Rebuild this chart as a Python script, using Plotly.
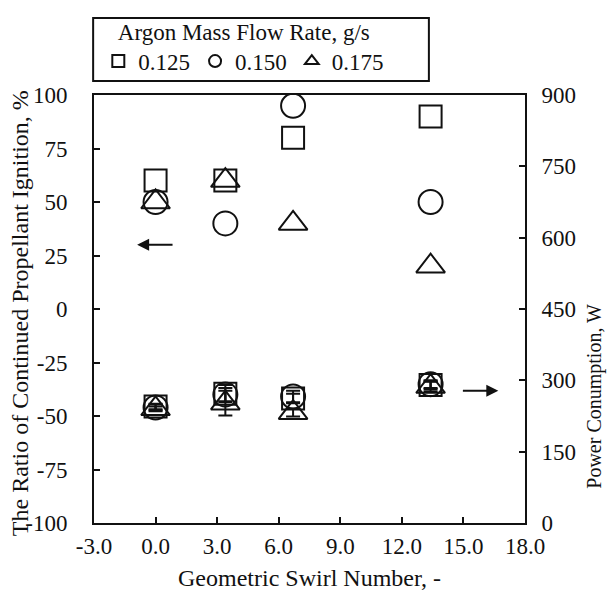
import plotly.graph_objects as go

# Geometric swirl number of each injector
swirl = [0.0, 3.4, 6.7, 13.4]

# Ratio of continued propellant ignition, % (left axis)
ratio_0125 = [60, 60, 80, 90]
ratio_0150 = [50, 40, 95, 50]
ratio_0175 = [50, 60, 40, 20]

# Power consumption, W (right axis)
power_0125 = [245, 272, 262, 290]
power_0150 = [243, 270, 266, 292]
power_0175 = [240, 252, 232, 287]

# Power measurement scatter (± W)
power_err_0125 = [6, 18, 10, 8]
power_err_0150 = [6, 14, 12, 8]
power_err_0175 = [5, 26, 8, 10]

flow_labels = ["0.125", "0.150", "0.175"]
x_ticks = [-3, 0, 3, 6, 9, 12, 15, 18]
x_ticktext = ["-3.0", "0.0", "3.0", "6.0", "9.0", "12.0", "15.0", "18.0"]
left_ticks = [-100, -75, -50, -25, 0, 25, 50, 75, 100]
left_ticktext = ["-100", "-75", "-50", "-25", "0", "25", "50", "75", "100"]
right_ticks = [0, 150, 300, 450, 600, 750, 900]

FONT = "Liberation Serif"
FS = 23
BLACK = "#111111"
symbols = ["square-open", "circle-open", "triangle-up-open"]
sizes = [22, 24, 25]

fig = go.Figure()

ratios = [ratio_0125, ratio_0150, ratio_0175]
powers = [power_0125, power_0150, power_0175]
errs = [power_err_0125, power_err_0150, power_err_0175]

for i, lab in enumerate(flow_labels):
    fig.add_trace(go.Scatter(
        x=swirl, y=ratios[i], mode="markers", name=lab,
        legendgroup=lab,
        marker=dict(symbol=symbols[i], size=sizes[i], color=BLACK,
                    line=dict(width=2, color=BLACK)),
        yaxis="y",
    ))
for i, lab in enumerate(flow_labels):
    fig.add_trace(go.Scatter(
        x=swirl, y=powers[i], mode="markers", name=lab,
        legendgroup=lab, showlegend=False,
        marker=dict(symbol=symbols[i], size=sizes[i], color=BLACK,
                    line=dict(width=2, color=BLACK)),
        error_y=dict(type="data", array=errs[i], color=BLACK,
                     thickness=2, width=7),
        yaxis="y2",
    ))

# Direction arrows pointing to the relevant axis
fig.add_annotation(x=-0.9, y=30, ax=0.9, ay=30, xref="x", yref="y",
                   axref="x", ayref="y", showarrow=True, arrowhead=2,
                   arrowsize=1.2, arrowwidth=2, arrowcolor=BLACK, text="")
fig.add_annotation(x=16.7, y=278, ax=14.9, ay=278, xref="x", yref="y2",
                   axref="x", ayref="y2", showarrow=True, arrowhead=2,
                   arrowsize=1.2, arrowwidth=2, arrowcolor=BLACK, text="")

# Axis titles for the two vertical axes
fig.add_annotation(text="The Ratio of Continued Propellant Ignition, %",
                   textangle=-90, xref="paper", yref="paper",
                   x=-0.172, y=0.49, xanchor="center", yanchor="middle",
                   showarrow=False,
                   font=dict(family=FONT, size=24, color=BLACK))
fig.add_annotation(text="Power Conumption, W", textangle=-90,
                   xref="paper", yref="paper", x=1.162, y=0.297,
                   xanchor="center", yanchor="middle", showarrow=False,
                   font=dict(family=FONT, size=20, color=BLACK))

# Frame around the legend block
fig.add_shape(type="rect", xref="paper", yref="paper",
              x0=-0.002, x1=0.777, y0=1.033, y1=1.18,
              line=dict(color=BLACK, width=2), fillcolor="rgba(0,0,0,0)")

axis_common = dict(showgrid=False, zeroline=False, showline=True,
                   linecolor=BLACK, linewidth=2, ticks="inside",
                   ticklen=6, tickwidth=2, tickcolor=BLACK,
                   tickfont=dict(family=FONT, size=FS, color=BLACK))

fig.update_layout(
    width=607, height=608,
    margin=dict(l=94, r=82, t=95, b=85, autoexpand=False),
    paper_bgcolor="white", plot_bgcolor="white",
    font=dict(family=FONT, size=FS, color=BLACK),
    xaxis=dict(range=[-3, 18], tickvals=x_ticks, ticktext=x_ticktext,
               mirror=True, ticklabelstandoff=1,
               title=dict(text="Geometric Swirl Number, -", standoff=12,
                          font=dict(family=FONT, size=24, color=BLACK)),
               **axis_common),
    yaxis=dict(range=[-100, 100], tickvals=left_ticks,
               ticktext=left_ticktext, ticklabelstandoff=20,
               **axis_common),
    yaxis2=dict(range=[0, 900], tickvals=right_ticks, overlaying="y",
                side="right", ticklabelstandoff=10,
                **axis_common),
    legend=dict(
        orientation="h", x=0.01, xanchor="left", y=0.984, yanchor="top",
        xref="paper", yref="container",
        bgcolor="rgba(0,0,0,0)", borderwidth=0,
        itemsizing="constant",
        title=dict(text="Argon Mass Flow Rate, g/s", side="top center",
                   font=dict(family=FONT, size=FS, color=BLACK)),
        font=dict(family=FONT, size=FS, color=BLACK),
    ),
)

fig.write_html("out.html")
